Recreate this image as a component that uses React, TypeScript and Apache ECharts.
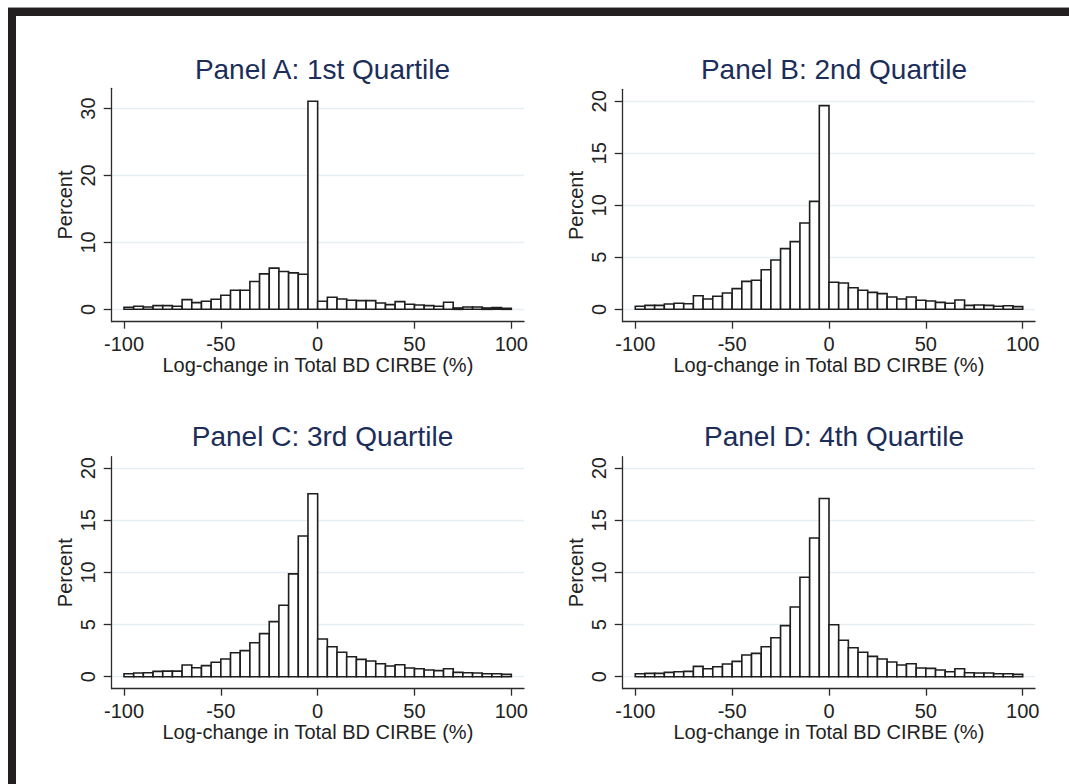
import React, { useEffect, useRef } from "react";
import * as echarts from "echarts";

// ---- Data ----
const BIN_WIDTH = 5;
const BIN_START = -100;
const binStarts: number[] = Array.from({ length: 40 }, (_, i) => BIN_START + BIN_WIDTH * i);

const panelTitles = [
  "Panel A: 1st Quartile",
  "Panel B: 2nd Quartile",
  "Panel C: 3rd Quartile",
  "Panel D: 4th Quartile",
];

const q1Percent = [
  0.3, 0.45, 0.35, 0.55, 0.55, 0.45, 1.45, 1.0, 1.2, 1.5,
  2.1, 2.85, 2.85, 4.15, 5.3, 6.15, 5.65, 5.45, 5.25, 31.1,
  1.2, 1.8, 1.55, 1.35, 1.3, 1.3, 0.95, 0.7, 1.15, 0.75,
  0.65, 0.55, 0.45, 1.05, 0.2, 0.35, 0.35, 0.2, 0.25, 0.15,
];
const q2Percent = [
  0.29, 0.38, 0.38, 0.51, 0.58, 0.54, 1.31, 0.99, 1.25, 1.57,
  1.99, 2.69, 2.79, 3.81, 4.74, 5.83, 6.51, 8.3, 10.38, 19.58,
  2.6, 2.53, 2.08, 1.83, 1.63, 1.51, 1.19, 0.99, 1.19, 0.87,
  0.8, 0.67, 0.58, 0.9, 0.38, 0.42, 0.38, 0.29, 0.35, 0.26,
];
const q3Percent = [
  0.29, 0.35, 0.38, 0.51, 0.54, 0.54, 1.12, 0.86, 1.06, 1.38,
  1.7, 2.3, 2.5, 3.26, 4.13, 5.28, 6.85, 9.86, 13.5, 17.54,
  3.62, 2.88, 2.34, 1.92, 1.66, 1.5, 1.25, 1.02, 1.15, 0.83,
  0.77, 0.64, 0.58, 0.77, 0.42, 0.38, 0.35, 0.29, 0.29, 0.22,
];
const q4Percent = [
  0.29, 0.32, 0.32, 0.42, 0.48, 0.51, 0.99, 0.77, 0.96, 1.22,
  1.47, 2.08, 2.24, 2.88, 3.74, 4.9, 6.69, 9.54, 13.31, 17.09,
  4.99, 3.49, 2.78, 2.34, 1.95, 1.7, 1.41, 1.12, 1.25, 0.83,
  0.8, 0.64, 0.48, 0.77, 0.38, 0.35, 0.35, 0.29, 0.29, 0.22,
];
const panelValues = [q1Percent, q2Percent, q3Percent, q4Percent];

const xTickLabels = [-100, -50, 0, 50, 100];
const yTicksA = [0, 10, 20, 30];
const yTicksBCD = [0, 5, 10, 15, 20];
const panelYTicks = [yTicksA, yTicksBCD, yTicksBCD, yTicksBCD];

const xAxisTitle = "Log-change in Total BD CIRBE (%)";
const yAxisTitle = "Percent";

// ---- Layout (pixels / axis extents) ----
const grids = [
  { left: 111.7, top: 88.3, width: 412.3, height: 233.4, xMin: -106.35, xMax: 106.55, yMin: -1.85, yMax: 33.03 },
  { left: 622.7, top: 89.3, width: 412.3, height: 232.4, xMin: -106.5, xMax: 106.35, yMin: -1.19, yMax: 21.15 },
  { left: 111.7, top: 456.7, width: 412.3, height: 232.0, xMin: -106.35, xMax: 106.55, yMin: -1.15, yMax: 21.1 },
  { left: 622.7, top: 456.7, width: 412.3, height: 232.0, xMin: -106.5, xMax: 106.35, yMin: -1.15, yMax: 21.1 },
];
const titleCenters = [
  { x: 317.5, y: 70 },
  { x: 829, y: 70 },
  { x: 317.5, y: 437 },
  { x: 829, y: 437 },
];

const FONT = "'Liberation Sans', Arial, Helvetica, sans-serif";
const AXIS_COLOR = "#2b2b2b";
const GRID_COLOR = "#e6eef2";
const TITLE_COLOR = "#1c2d5a";

export default function App() {
  const ref = useRef<HTMLDivElement>(null);

  useEffect(() => {
    if (!ref.current) return;
    const chart = echarts.init(ref.current, null, { renderer: "svg" });

    const option: any = {
      animation: false,
      backgroundColor: "#ffffff",
      title: panelTitles.map((t, i) => ({
        text: t,
        left: titleCenters[i].x,
        top: titleCenters[i].y - 20,
        textAlign: "center",
        textStyle: { fontFamily: FONT, fontSize: 28, fontWeight: "normal", color: TITLE_COLOR },
      })),
      grid: grids.map((g) => ({
        left: g.left,
        top: g.top,
        width: g.width,
        height: g.height,
        containLabel: false,
        outerBoundsMode: "none",
      })),
      xAxis: grids.map((g, i) => ({
        type: "value",
        gridIndex: i,
        min: g.xMin,
        max: g.xMax,
        name: xAxisTitle,
        nameLocation: "middle",
        nameGap: 33,
        nameTextStyle: { fontFamily: FONT, fontSize: 20, color: "#222" },
        axisLine: { show: true, onZero: false, lineStyle: { color: AXIS_COLOR, width: 1.3 } },
        axisTick: { show: true, length: 7, customValues: xTickLabels, lineStyle: { color: AXIS_COLOR, width: 1.3 } },
        axisLabel: { customValues: xTickLabels, margin: 12, fontFamily: FONT, fontSize: 20, color: "#222" },
        splitLine: { show: false },
      })),
      yAxis: grids.map((g, i) => ({
        type: "value",
        gridIndex: i,
        min: g.yMin,
        max: g.yMax,
        name: yAxisTitle,
        nameLocation: "middle",
        nameGap: 37,
        nameRotate: 90,
        nameTextStyle: { fontFamily: FONT, fontSize: 20, color: "#222" },
        axisLine: { show: true, onZero: false, lineStyle: { color: AXIS_COLOR, width: 1.3 } },
        axisTick: { show: true, length: 8, customValues: panelYTicks[i], lineStyle: { color: AXIS_COLOR, width: 1.3 } },
        axisLabel: { customValues: panelYTicks[i], rotate: 90, margin: 14, fontFamily: FONT, fontSize: 20, color: "#222" },
        splitLine: { show: true, lineStyle: { color: GRID_COLOR, width: 1.3 } },
      })),
      series: panelValues.map((vals, i) => ({
        type: "custom",
        xAxisIndex: i,
        yAxisIndex: i,
        encode: { x: [0, 1], y: 2 },
        data: vals.map((v, k) => [binStarts[k], binStarts[k] + BIN_WIDTH, v]),
        renderItem: (params: any, api: any) => {
          const x0 = api.value(0);
          const x1 = api.value(1);
          const h = api.value(2);
          const p0 = api.coord([x0, 0]);
          const p1 = api.coord([x1, h]);
          return {
            type: "rect",
            shape: { x: p0[0], y: p1[1], width: p1[0] - p0[0], height: p0[1] - p1[1] },
            style: { fill: "#ffffff", stroke: "#1e1e1e", lineWidth: 1.6 },
          };
        },
      })),
      graphic: [
        { type: "rect", shape: { x: 8, y: 8, width: 1061, height: 8 }, style: { fill: "#231f20" }, silent: true },
        { type: "rect", shape: { x: 8, y: 8, width: 8, height: 776 }, style: { fill: "#231f20" }, silent: true },
        { type: "rect", shape: { x: 8, y: 7, width: 1061, height: 1 }, style: { fill: "#9a9a9a" }, silent: true },
      ],
    };

    chart.setOption(option);
    return () => chart.dispose();
  }, []);

  return (
    <div
      ref={ref}
      style={{ position: "fixed", left: 0, top: 0, width: 1069, height: 784, background: "#fff" }}
    />
  );
}
